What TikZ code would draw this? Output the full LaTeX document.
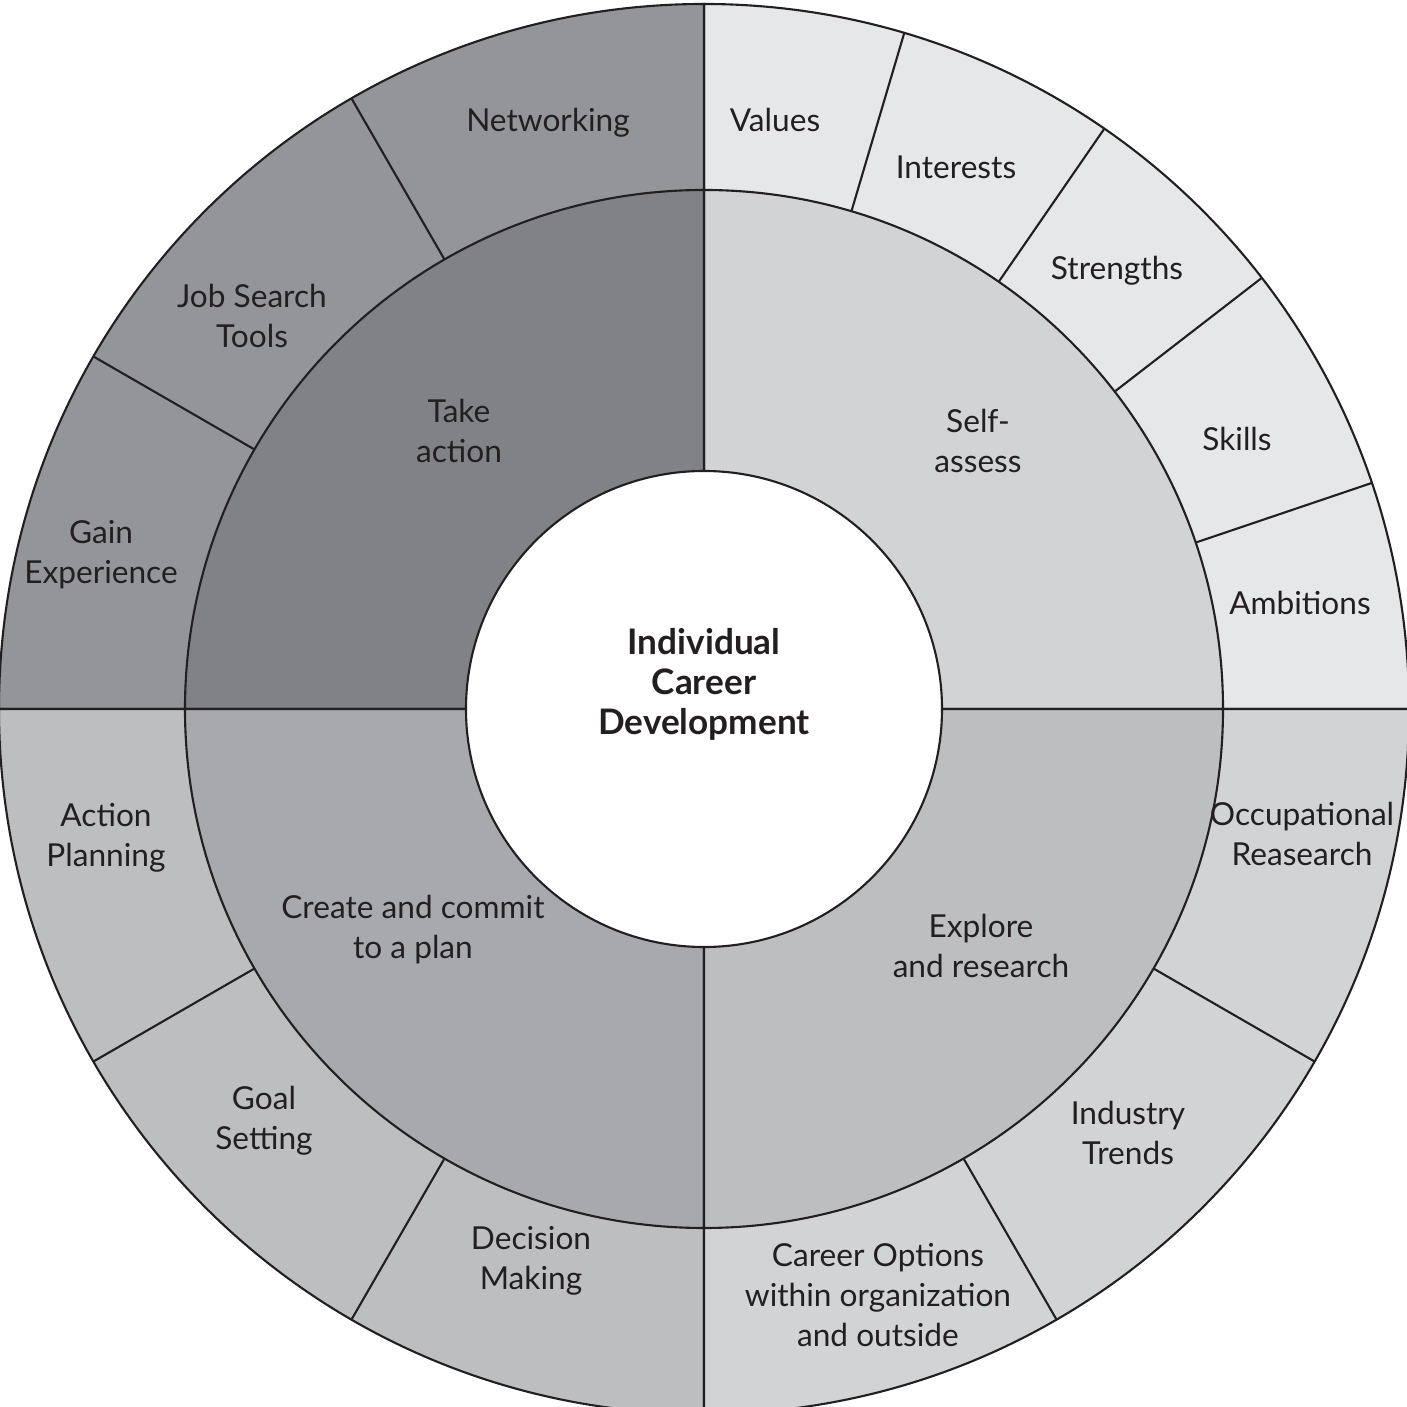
\documentclass[tikz,border=0pt]{standalone}
\usepackage{fontspec}
\setmainfont{Lato}
\usepackage{xcolor}
\definecolor{inkblack}{HTML}{231F20}
\definecolor{actiondark}{HTML}{808285}
\definecolor{actionlight}{HTML}{939598}
\definecolor{plandark}{HTML}{A7A9AC}
\definecolor{planlight}{HTML}{BCBEC0}
\definecolor{exploredark}{HTML}{BCBEC0}
\definecolor{explorelight}{HTML}{D1D3D4}
\definecolor{selfdark}{HTML}{D1D3D4}
\definecolor{selflight}{HTML}{E6E7E8}
\usepackage{tikz}

\begin{document}
\begin{tikzpicture}[
	ring/.style={draw=inkblack, line width=0.6pt},
	seg/.style={align=center, font=\fontsize{9}{11.4}\selectfont, text=inkblack, inner sep=1pt},
	phase/.style={align=center, font=\fontsize{9}{11.4}\selectfont, text=inkblack, inner sep=1pt},
	hub/.style={align=center, font=\fontsize{10}{11.4}\selectfont\bfseries, text=inkblack, inner sep=1pt}
	]
\useasboundingbox (-7.04,-6.98) rectangle (7.03,7.09);

% outer ring, one quadrant per phase
\filldraw[ring, fill=selflight] (0,0) -- (0:7.05) arc[start angle=0, end angle=90, radius=7.05] -- cycle;
\filldraw[ring, fill=actionlight] (0,0) -- (90:7.05) arc[start angle=90, end angle=180, radius=7.05] -- cycle;
\filldraw[ring, fill=planlight] (0,0) -- (180:7.05) arc[start angle=180, end angle=270, radius=7.05] -- cycle;
\filldraw[ring, fill=explorelight] (0,0) -- (270:7.05) arc[start angle=270, end angle=360, radius=7.05] -- cycle;

% middle ring
\filldraw[ring, fill=selfdark] (0,0) -- (0:5.19) arc[start angle=0, end angle=90, radius=5.19] -- cycle;
\filldraw[ring, fill=actiondark] (0,0) -- (90:5.19) arc[start angle=90, end angle=180, radius=5.19] -- cycle;
\filldraw[ring, fill=plandark] (0,0) -- (180:5.19) arc[start angle=180, end angle=270, radius=5.19] -- cycle;
\filldraw[ring, fill=exploredark] (0,0) -- (270:5.19) arc[start angle=270, end angle=360, radius=5.19] -- cycle;

% dividers of the outer ring
\foreach \a in {18.7,37.7,55.4,73.5,120,150,210,240,300,330}
	\draw[ring] (\a:5.19) -- (\a:7.05);

% hub
\filldraw[ring, fill=white] (0,0) circle (2.38);
\node[hub] (hub) at (0,0.25) {Individual\\Career\\Development};

\node[phase] (self) at (2.74,2.68) {Self-\\assess};
\node[phase] (explore) at (2.77,-2.37) {Explore\\and research};
\node[phase] (plan) at (-2.91,-2.21) {Create and commit\\to a plan};
\node[phase] (act) at (-2.45,2.78) {Take\\action};

\node[seg] (values) at (0.71,5.89) {Values};
\node[seg] (interests) at (2.52,5.42) {Interests};
\node[seg] (strengths) at (4.13,4.38) {Strengths};
\node[seg] (skills) at (5.33,2.70) {Skills};
\node[seg] (ambitions) at (5.96,1.06) {Ambitions};
\node[seg] (occup) at (5.98,-1.25) {Occupational\\Reasearch};
\node[seg] (trends) at (4.24,-4.24) {Industry\\Trends};
\node[seg] (options) at (1.74,-5.86) {Career Options\\within organization\\and outside};
\node[seg] (decide) at (-1.73,-5.52) {Decision\\Making};
\node[seg] (goal) at (-4.40,-4.12) {Goal\\Setting};
\node[seg] (actplan) at (-5.98,-1.29) {Action\\Planning};
\node[seg] (gain) at (-6.03,1.54) {Gain\\Experience};
\node[seg] (jobtools) at (-4.52,3.93) {Job Search\\Tools};
\node[seg] (network) at (-1.56,5.86) {Networking};
\end{tikzpicture}
\end{document}
